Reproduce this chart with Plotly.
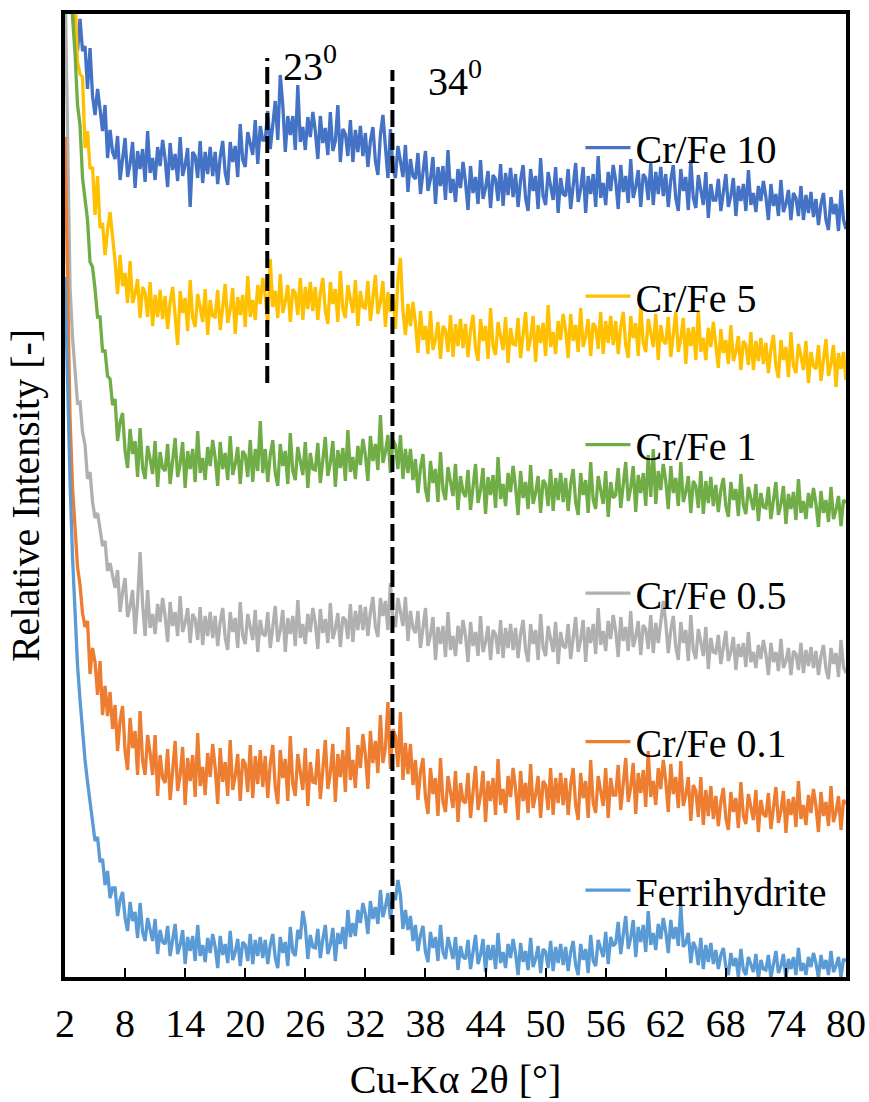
import plotly.graph_objects as go

SERIES_NAMES = ["Cr/Fe 10", "Cr/Fe 5", "Cr/Fe 1", "Cr/Fe 0.5", "Cr/Fe 0.1", "Ferrihydrite"]
SERIES_COLORS = ["#4472C4", "#FFC000", "#70AD47", "#B0B0B0", "#ED7D31", "#5B9BD5"]

# 2-theta sampling: start 2 deg, 0.25 deg step (each row below = 5 deg)
THETA_START = 2.0
THETA_STEP = 0.25

# relative intensity values (arbitrary units, offset stack as in the figure)
CRFE_10 = [
    1060, 1040, 1010, 985, 951, 926, 958, 926, 931, 888, 929, 881, 862, 888, 868, 846, 872, 819, 847, 825,
    818, 841, 797, 821, 839, 800, 813, 835, 789, 826, 808, 828, 795, 846, 804, 819, 797, 830, 811, 837,
    818, 790, 834, 807, 823, 796, 840, 801, 812, 829, 770, 825, 821, 799, 836, 794, 825, 803, 830, 801,
    825, 793, 820, 836, 804, 792, 835, 815, 831, 800, 853, 817, 810, 845, 834, 822, 857, 813, 851, 837,
    837, 866, 828, 855, 876, 837, 902, 872, 825, 861, 842, 861, 827, 892, 835, 850, 827, 860, 840, 865,
    846, 818, 861, 834, 849, 822, 865, 826, 836, 872, 815, 848, 843, 821, 857, 815, 847, 825, 851, 821,
    844, 810, 836, 850, 816, 802, 842, 862, 833, 799, 848, 809, 799, 831, 816, 800, 832, 785, 818, 801,
    798, 824, 783, 807, 826, 786, 798, 820, 773, 810, 791, 811, 777, 827, 784, 798, 775, 808, 789, 815,
    795, 767, 811, 784, 800, 773, 817, 778, 789, 806, 769, 802, 798, 776, 813, 771, 804, 782, 809, 780,
    803, 770, 797, 812, 779, 766, 808, 786, 801, 768, 819, 781, 772, 805, 792, 777, 810, 764, 799, 783,
    781, 808, 768, 794, 814, 775, 788, 810, 764, 801, 783, 803, 770, 821, 779, 794, 772, 805, 786, 812,
    796, 768, 812, 785, 801, 774, 818, 779, 790, 807, 770, 803, 799, 777, 814, 772, 805, 783, 810, 781,
    803, 770, 797, 812, 779, 766, 808, 786, 800, 767, 817, 779, 769, 802, 788, 772, 805, 759, 793, 777,
    777, 798, 766, 787, 803, 770, 781, 799, 761, 791, 776, 793, 766, 807, 772, 784, 765, 791, 776, 796,
    780, 757, 793, 771, 783, 761, 797, 765, 773, 787, 757, 784, 779, 761, 791, 757, 782, 764, 785, 760,
    778, 752, 773, 784, 757, 747, 780, 763, 773, 746, 787, 757, 748,
]
CRFE_5 = [
    1110, 1080, 1040, 1000, 984, 915, 903, 900, 829, 846, 808, 810, 762, 801, 749, 754, 722, 747, 765, 740,
    716, 683, 722, 691, 704, 674, 716, 674, 683, 698, 659, 690, 684, 660, 695, 651, 682, 660, 687, 658,
    681, 648, 675, 690, 657, 632, 686, 664, 679, 646, 697, 659, 650, 683, 670, 655, 688, 642, 677, 661,
    660, 687, 647, 673, 693, 654, 667, 689, 643, 680, 662, 682, 650, 701, 660, 677, 657, 692, 673, 699,
    681, 653, 718, 670, 686, 659, 703, 664, 675, 692, 655, 688, 684, 662, 699, 657, 690, 668, 695, 666,
    690, 657, 684, 699, 666, 653, 695, 673, 688, 655, 706, 668, 659, 692, 679, 664, 697, 651, 686, 670,
    669, 696, 656, 682, 702, 663, 675, 696, 650, 685, 665, 683, 648, 697, 719, 666, 642, 673, 651, 675,
    654, 624, 666, 637, 651, 623, 666, 627, 638, 655, 618, 651, 647, 625, 662, 620, 653, 631, 658, 629,
    653, 620, 647, 662, 629, 616, 658, 636, 651, 618, 669, 631, 622, 655, 642, 627, 660, 614, 649, 633,
    632, 659, 619, 645, 665, 626, 639, 661, 615, 652, 634, 654, 621, 672, 630, 645, 623, 656, 637, 663,
    647, 619, 663, 636, 652, 625, 669, 630, 641, 658, 621, 654, 650, 628, 665, 623, 656, 634, 661, 632,
    656, 623, 650, 665, 632, 619, 661, 639, 654, 621, 672, 634, 625, 658, 645, 630, 663, 617, 652, 636,
    633, 660, 620, 646, 665, 625, 638, 659, 613, 649, 631, 650, 617, 667, 625, 639, 617, 649, 630, 655,
    635, 609, 648, 624, 637, 613, 652, 616, 625, 641, 607, 636, 632, 612, 645, 607, 636, 616, 639, 613,
    634, 604, 628, 642, 611, 599, 637, 617, 630, 600, 645, 611, 604, 633, 621, 607, 636, 594, 625, 611,
    608, 632, 596, 620, 638, 601, 613, 632, 590, 624, 608, 625, 597,
]
CRFE_1 = [
    1120, 1060, 1000, 960, 924, 872, 852, 799, 774, 757, 715, 710, 688, 660, 660, 626, 626, 601, 598, 572,
    578, 536, 555, 564, 526, 509, 548, 523, 536, 500, 549, 509, 498, 531, 518, 503, 536, 490, 525, 509,
    506, 533, 493, 519, 539, 500, 513, 535, 489, 526, 508, 528, 495, 546, 504, 519, 497, 530, 511, 537,
    519, 491, 535, 508, 524, 497, 541, 502, 513, 530, 493, 526, 522, 500, 537, 495, 528, 506, 556, 504,
    528, 495, 522, 537, 504, 491, 533, 511, 526, 493, 544, 506, 497, 530, 517, 502, 535, 489, 524, 508,
    507, 534, 494, 520, 540, 501, 514, 536, 490, 527, 509, 529, 496, 547, 505, 520, 498, 531, 512, 538,
    522, 496, 541, 516, 533, 507, 562, 514, 525, 542, 504, 537, 532, 508, 542, 498, 528, 504, 528, 497,
    518, 484, 509, 523, 488, 475, 516, 494, 508, 475, 525, 487, 477, 510, 496, 481, 513, 467, 501, 485,
    480, 507, 467, 493, 513, 474, 487, 509, 463, 500, 482, 502, 469, 520, 478, 493, 471, 504, 485, 511,
    490, 462, 506, 479, 495, 468, 512, 473, 484, 501, 464, 497, 493, 471, 508, 466, 499, 477, 504, 475,
    499, 466, 493, 508, 475, 462, 504, 482, 497, 464, 515, 477, 468, 501, 488, 473, 506, 460, 495, 479,
    482, 509, 469, 495, 515, 476, 489, 511, 465, 502, 484, 504, 471, 522, 480, 528, 473, 506, 487, 513,
    496, 468, 511, 484, 499, 471, 515, 475, 485, 501, 464, 496, 491, 469, 506, 463, 496, 474, 500, 471,
    492, 465, 487, 499, 471, 460, 495, 477, 488, 461, 503, 472, 463, 490, 480, 467, 493, 456, 484, 470,
    469, 490, 458, 479, 495, 462, 473, 491, 453, 483, 468, 485, 457, 498, 464, 476, 458, 484, 469, 489,
    473, 450, 486, 464, 477, 455, 490, 458, 467, 481, 451, 477, 474,
]
CRFE_05 = [
    1000, 850, 690, 640, 602, 574, 575, 545, 532, 498, 505, 475, 459, 464, 448, 431, 436, 406, 414, 400,
    389, 407, 365, 385, 399, 360, 370, 387, 343, 375, 425, 373, 341, 387, 349, 363, 343, 373, 355, 379,
    361, 335, 375, 351, 365, 341, 381, 345, 354, 369, 334, 363, 358, 337, 370, 332, 361, 341, 365, 339,
    361, 331, 355, 369, 339, 327, 365, 345, 359, 329, 375, 341, 333, 363, 351, 337, 367, 325, 357, 343,
    341, 365, 329, 353, 371, 335, 347, 367, 325, 359, 343, 361, 331, 377, 339, 353, 333, 363, 345, 369,
    354, 328, 368, 344, 358, 334, 374, 338, 348, 364, 330, 360, 357, 338, 373, 335, 366, 347, 372, 347,
    370, 341, 365, 380, 350, 340, 379, 361, 376, 347, 394, 359, 350, 379, 366, 351, 380, 336, 366, 349,
    344, 366, 329, 352, 369, 331, 342, 360, 317, 350, 333, 351, 320, 365, 327, 341, 321, 351, 333, 357,
    341, 315, 355, 331, 345, 321, 361, 325, 335, 351, 317, 347, 343, 323, 357, 319, 349, 329, 353, 327,
    349, 319, 343, 357, 327, 315, 353, 333, 347, 317, 363, 329, 321, 351, 339, 325, 355, 313, 345, 331,
    329, 353, 318, 342, 360, 325, 337, 357, 315, 350, 334, 353, 323, 369, 332, 346, 326, 356, 338, 362,
    346, 320, 360, 336, 350, 326, 366, 330, 340, 356, 322, 352, 348, 328, 362, 324, 354, 334, 358, 376,
    354, 324, 347, 361, 330, 317, 355, 334, 347, 316, 362, 327, 318, 348, 335, 321, 350, 308, 339, 325,
    324, 342, 313, 331, 346, 316, 325, 340, 307, 333, 320, 334, 310, 345, 315, 325, 309, 332, 318, 337,
    323, 302, 334, 315, 325, 306, 338, 309, 316, 329, 302, 326, 323, 307, 334, 304, 327, 311, 330, 309,
    326, 302, 321, 332, 308, 298, 329, 313, 324, 300, 337, 310, 304,
]
CRFE_01 = [
    840, 700, 560, 490, 452, 410, 392, 364, 350, 356, 303, 329, 315, 282, 316, 262, 291, 261, 285, 248,
    272, 226, 256, 271, 226, 207, 259, 229, 246, 202, 266, 216, 202, 242, 224, 202, 242, 181, 222, 199,
    194, 228, 177, 210, 236, 186, 202, 230, 172, 219, 196, 222, 180, 244, 191, 210, 182, 224, 200, 233,
    209, 173, 229, 195, 215, 181, 237, 187, 201, 223, 176, 218, 213, 185, 232, 179, 221, 193, 227, 190,
    221, 179, 213, 232, 190, 173, 227, 199, 218, 176, 241, 193, 181, 223, 207, 187, 229, 171, 215, 195,
    194, 228, 178, 211, 237, 188, 204, 233, 175, 223, 200, 227, 185, 250, 197, 217, 189, 232, 209, 243,
    222, 188, 246, 214, 236, 204, 262, 214, 229, 275, 208, 248, 241, 210, 265, 197, 234, 203, 233, 192,
    217, 177, 205, 219, 180, 163, 209, 183, 199, 161, 219, 175, 165, 201, 186, 169, 206, 155, 194, 176,
    174, 204, 159, 188, 211, 167, 182, 206, 155, 196, 176, 199, 162, 218, 172, 188, 164, 201, 180, 209,
    188, 157, 206, 176, 194, 164, 213, 169, 182, 201, 159, 196, 192, 167, 209, 162, 199, 174, 204, 172,
    199, 162, 192, 209, 172, 157, 204, 179, 196, 159, 217, 174, 164, 201, 187, 171, 209, 159, 199, 182,
    182, 212, 167, 196, 219, 175, 190, 214, 163, 204, 184, 207, 170, 226, 180, 196, 172, 209, 188, 217,
    196, 165, 213, 183, 200, 169, 216, 171, 182, 200, 156, 192, 186, 160, 200, 152, 187, 161, 191, 158,
    181, 151, 175, 189, 159, 147, 185, 165, 179, 149, 195, 161, 153, 183, 171, 157, 187, 145, 177, 163,
    160, 184, 148, 172, 190, 154, 166, 186, 144, 178, 162, 180, 150, 196, 158, 172, 152, 182, 164, 188,
    171, 145, 185, 161, 175, 151, 191, 155, 165, 181, 147, 177, 173,
]
FERRIHYDRITE = [
    700, 590, 497, 420, 357, 312, 277, 245, 217, 195, 177, 158, 136, 140, 115, 118, 92, 106, 79, 89,
    89, 61, 77, 85, 59, 46, 75, 56, 65, 39, 74, 45, 36, 59, 47, 36, 58, 23, 47, 35,
    33, 51, 21, 39, 53, 23, 32, 47, 13, 40, 26, 41, 16, 52, 21, 32, 15, 39, 24, 43,
    30, 9, 41, 22, 33, 14, 46, 17, 25, 38, 11, 35, 32, 16, 43, 13, 37, 21, 40, 19,
    37, 13, 32, 43, 19, 9, 40, 24, 35, 11, 50, 25, 21, 47, 38, 66, 51, 18, 42, 30,
    29, 48, 19, 38, 52, 23, 32, 49, 16, 44, 33, 50, 28, 67, 40, 54, 41, 67, 54, 74,
    63, 43, 76, 58, 70, 53, 87, 60, 70, 84, 58, 81, 77, 97, 82, 48, 67, 47, 61, 36,
    52, 26, 42, 51, 25, 15, 45, 29, 40, 16, 52, 25, 18, 40, 29, 18, 40, 7, 31, 20,
    18, 37, 8, 27, 42, 13, 22, 38, 5, 32, 17, 32, 8, 44, 14, 25, 9, 33, 19, 38,
    23, 2, 34, 15, 26, 7, 39, 10, 18, 31, 4, 28, 25, 9, 36, 6, 30, 14, 33, 12,
    30, 6, 25, 36, 12, 2, 33, 17, 28, 4, 42, 16, 11, 37, 29, 20, 45, 13, 40, 31,
    34, 55, 23, 44, 61, 28, 39, 57, 20, 50, 35, 52, 25, 66, 32, 44, 27, 53, 38, 59,
    45, 24, 57, 38, 50, 31, 72, 30, 34, 44, 14, 35, 29, 12, 39, 8, 32, 15, 34, 13,
    27, 8, 22, 29, 10, 2, 24, 11, 19, 0, 28, 7, 2, 20, 13, 5, 23, -2, 17, 8,
    7, 22, -1, 14, 26, 4, 11, 23, -2, 18, 8, 20, 2, 29, 6, 14, 2, 20, 10, 24,
    14, -1, 22, 8, 17, 2, 26, 5, 11, 20, 0, 18, 16,
]
SERIES_VALUES = [CRFE_10, CRFE_5, CRFE_1, CRFE_05, CRFE_01, FERRIHYDRITE]

X_TICKS = [2, 8, 14, 20, 26, 32, 38, 44, 50, 56, 62, 68, 74, 80]
# reference lines: (position in deg, label, top intensity, bottom intensity, label x, label y)
REF_LINES = [
    (22.2, "23<sup>0</sup>", 919, 594, 23.6, 914),
    (34.7, "34<sup>0</sup>", 907, 22, 38.1, 899),
]

FONT = "Liberation Serif, Times New Roman, serif"

fig = go.Figure()
for i, (name, color, vals) in enumerate(zip(SERIES_NAMES, SERIES_COLORS, SERIES_VALUES)):
    xs = [THETA_START + THETA_STEP * k for k in range(len(vals))]
    fig.add_trace(go.Scatter(
        x=xs, y=vals, mode="lines", name=name,
        line=dict(color=color, width=3.3), legendgroup=f"g{i}",
    ))

for pos, label, top, bottom, lx, ly in REF_LINES:
    fig.add_shape(type="line", xref="x", yref="y", x0=pos, x1=pos, y0=bottom, y1=top,
                  line=dict(color="black", width=4, dash="17px,6px"))
    fig.add_annotation(x=lx, y=ly, xref="x", yref="y", text=label, showarrow=False,
                       xanchor="left", yanchor="middle",
                       font=dict(family=FONT, size=40, color="black"))

fig.update_layout(
    width=869, height=1102,
    margin=dict(l=65, r=23, t=14, b=125, autoexpand=False),
    paper_bgcolor="white", plot_bgcolor="white",
    font=dict(family=FONT, size=40, color="black"),
    showlegend=True,
    legend=dict(
        x=0.66, y=0.895, xanchor="left", yanchor="top",
        bgcolor="rgba(0,0,0,0)", borderwidth=0,
        traceorder="grouped", tracegroupgap=93.5,
        font=dict(family=FONT, size=40, color="black"),
        itemwidth=45,
    ),
    xaxis=dict(
        range=[2, 80], tickmode="array", tickvals=X_TICKS,
        ticks="inside", ticklen=9, tickwidth=1.5, tickcolor="black",
        showline=True, linewidth=3.5, linecolor="black", mirror=True,
        showgrid=False, zeroline=False,
        tickfont=dict(family=FONT, size=40, color="black"),
        ticklabelstandoff=8,
        title=dict(text="Cu-Kα 2θ [°]", font=dict(family=FONT, size=40, color="black"), standoff=27),
    ),
    yaxis=dict(
        range=[0, 963], showticklabels=False, ticks="",
        showline=True, linewidth=3.5, linecolor="black", mirror=True,
        showgrid=False, zeroline=False,
        title=dict(text="Relative Intensity [-]", font=dict(family=FONT, size=40, color="black"), standoff=10),
    ),
)

fig.write_html("out.html")
